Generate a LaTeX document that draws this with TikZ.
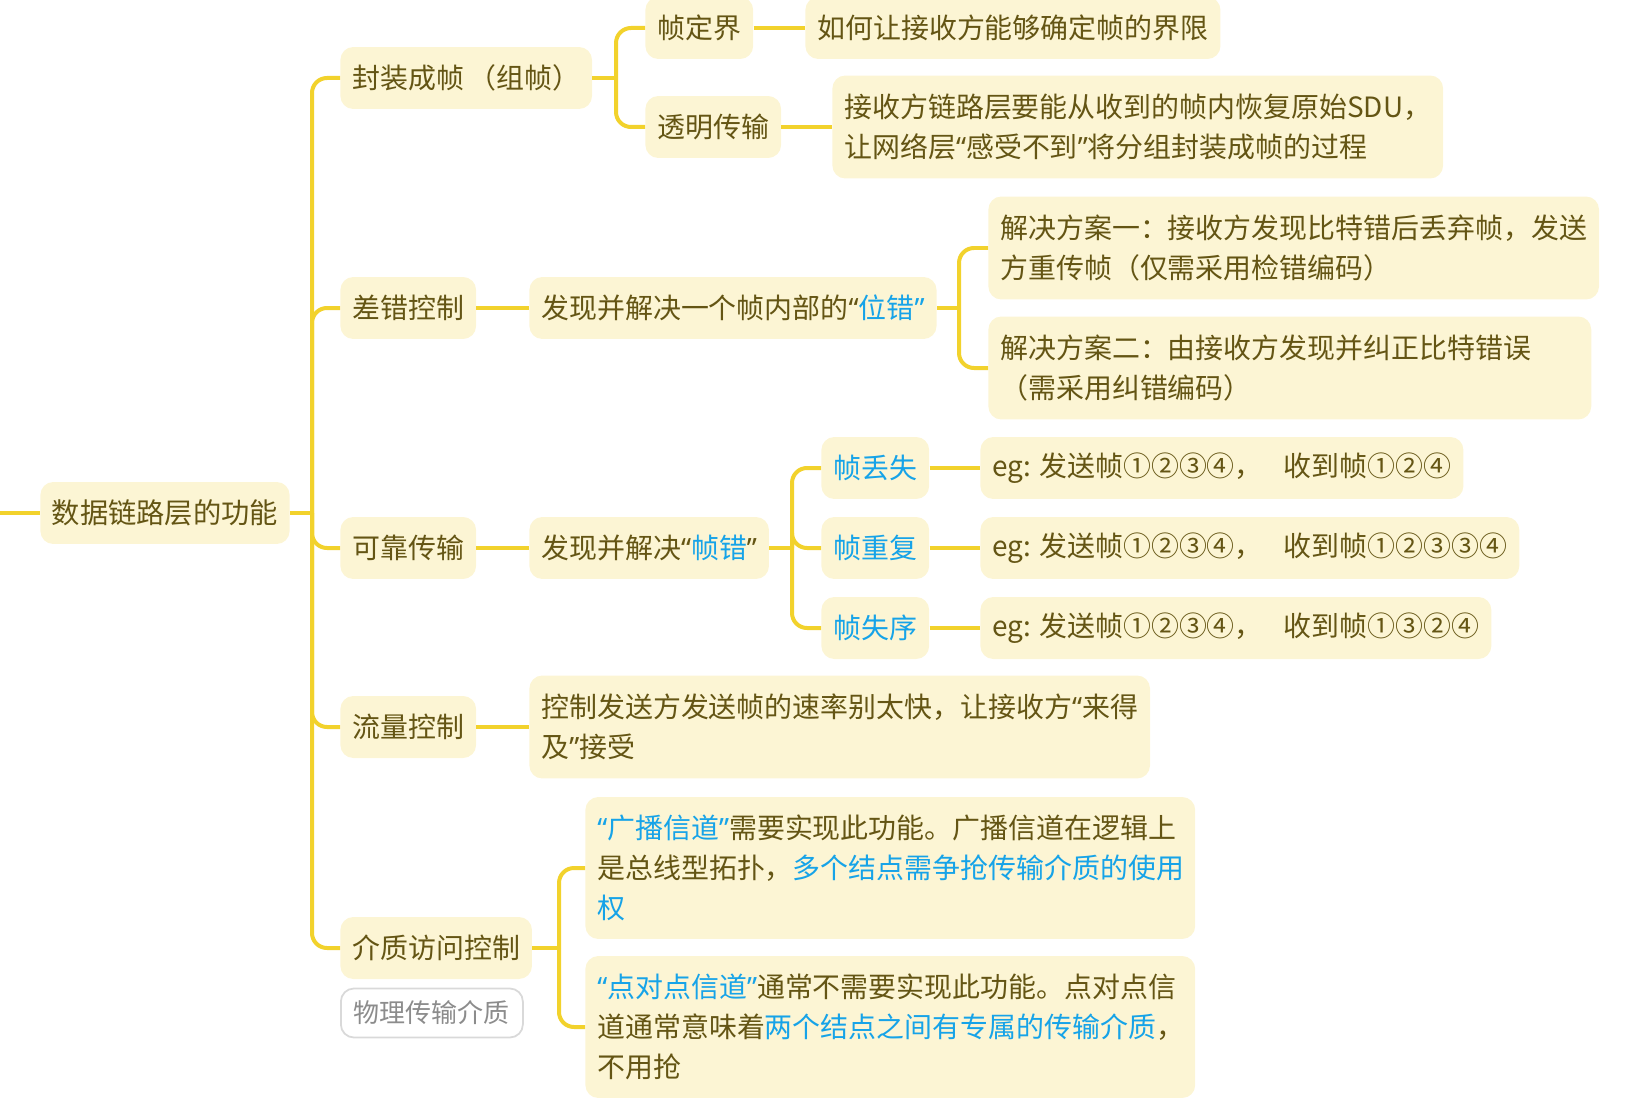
\documentclass[tikz,border=0pt]{standalone}
\usepackage{fontspec}
\setmainfont{Noto Sans CJK SC}
\newfontfamily\quotefont{Noto Sans}
\usepackage{tikz}
\usetikzlibrary{positioning}
\definecolor{topicfill}{HTML}{FCF5D4}
\definecolor{linkyellow}{HTML}{F2D22C}
\definecolor{topictext}{HTML}{645514}
\definecolor{hiblue}{HTML}{16A3E8}
\definecolor{notegray}{HTML}{8C8C8C}
\newcommand{\hl}[1]{\textcolor{hiblue}{#1}}
\newcommand{\oq}{{\quotefont “}}
\newcommand{\cq}{{\quotefont ”}}

\begin{document}
\begin{tikzpicture}[x=0.02cm, y=-0.02cm,
  topic/.style={fill=topicfill, text=topictext, rounded corners=0.26cm, inner xsep=0.24cm, inner ysep=0pt,
    minimum height=1.24cm, anchor=west, align=left, font=\fontsize{15.9pt}{22.8pt}\selectfont},
  twoline/.style={topic, minimum height=2.06cm},
  threeline/.style={topic, minimum height=2.84cm},
  note/.style={topic, fill=white, draw=gray!30, line width=1pt, text=notegray, minimum height=0.98cm,
    inner xsep=0.26cm, font=\fontsize{14.8pt}{20pt}\selectfont},
  link/.style={draw=linkyellow, line width=0.08cm, rounded corners=0.3cm}]
  \useasboundingbox (0,0) rectangle (1632,1108);

  % central topic
  \node[topic, inner xsep=0.23cm, font=\fontsize{16.1pt}{22pt}\selectfont] (root) at (40,513) {数据链路层的功能};
  \coordinate (lead) at (0,513);
  \coordinate (trunk) at (312,513);

  % main branches
  \node[topic] (frame) at (340,78) {封装成帧\hspace{0.15em}（组帧）};
  \node[topic] (errctl) at (340,308) {差错控制};
  \node[topic] (relia) at (340,548) {可靠传输};
  \node[topic] (flow) at (340,727) {流量控制};
  \node[topic] (mac) at (340,948) {介质访问控制};
  \node[note] (medium) at (340,1013) {物理传输介质};

  % framing
  \node[topic] (delim) at (645,28) {帧定界};
  \node[topic] (delimq) at (805,28) {如何让接收方能够确定帧的界限};
  \node[topic] (transp) at (645,127) {透明传输};
  \node[twoline] (transpq) at (832,127) {接收方链路层要能从收到的帧内恢复原始SDU，\\让网络层\oq 感受不到\cq 将分组封装成帧的过程};

  % error control
  \node[topic] (biterr) at (529,308) {发现并解决一个帧内部的\oq\hl{位错\cq}};
  \node[twoline] (plan1) at (988,248) {解决方案一：接收方发现比特错后丢弃帧，发送\\方重传帧（仅需采用检错编码）};
  \node[twoline, text width=11.58cm] (plan2) at (988,368) {解决方案二：由接收方发现并纠正比特错误\\（需采用纠错编码）};

  % reliable transfer
  \node[topic] (frmerr) at (529,548) {发现并解决\oq\hl{帧错}\cq};
  \node[topic, text=hiblue] (lost) at (821,468) {帧丢失};
  \node[topic, text=hiblue] (dup) at (821,548) {帧重复};
  \node[topic, text=hiblue] (order) at (821,628) {帧失序};
  \node[topic] (lostq) at (980,468) {eg: 发送帧①②③④，\hspace{0.75em}收到帧①②④};
  \node[topic] (dupq) at (980,548) {eg: 发送帧①②③④，\hspace{0.75em}收到帧①②③③④};
  \node[topic] (orderq) at (980,628) {eg: 发送帧①②③④，\hspace{0.75em}收到帧①③②④};

  % flow control
  \node[twoline] (flowq) at (529,727) {控制发送方发送帧的速率别太快，让接收方\oq 来得\\及\cq 接受};

  % medium access
  \node[threeline, text width=11.72cm] (bcast) at (585,868) {\hl{\oq 广播信道\cq}需要实现此功能。广播信道在逻辑上\\是总线型拓扑，\hl{多个结点需争抢传输介质的使用}\\\hl{权}};
  \node[threeline, text width=11.72cm] (p2p) at (585,1027) {\hl{\oq 点对点信道\cq}通常不需要实现此功能。点对点信\\道通常意味着\hl{两个结点之间有专属的传输介质}，\\不用抢};

  % connectors
  \draw[link] (lead) -- (root.west);
  \draw[link] (root.east) -- (trunk);
  \foreach \n in {frame,errctl,relia,flow,mac}
    \draw[link] (trunk) |- (\n.west);

  \coordinate (frameJ) at (616,78);
  \draw[link] (frame.east) -- (frameJ);
  \foreach \n in {delim,transp}
    \draw[link] (frameJ) |- (\n.west);
  \draw[link] (delim.east) -- (delimq.west);
  \draw[link] (transp.east) -- (transpq.west);

  \draw[link] (errctl.east) -- (biterr.west);
  \coordinate (errJ) at (959,308);
  \draw[link] (biterr.east) -- (errJ);
  \foreach \n in {plan1,plan2}
    \draw[link] (errJ) |- (\n.west);

  \draw[link] (relia.east) -- (frmerr.west);
  \coordinate (reliaJ) at (792,548);
  \draw[link] (frmerr.east) -- (reliaJ);
  \foreach \n/\m in {lost/lostq,dup/dupq,order/orderq}{
    \draw[link] (reliaJ) |- (\n.west);
    \draw[link] (\n.east) -- (\m.west);
  }

  \draw[link] (flow.east) -- (flowq.west);

  \coordinate (macJ) at (559,948);
  \draw[link] (mac.east) -- (macJ);
  \foreach \n in {bcast,p2p}
    \draw[link] (macJ) |- (\n.west);
\end{tikzpicture}
\end{document}
